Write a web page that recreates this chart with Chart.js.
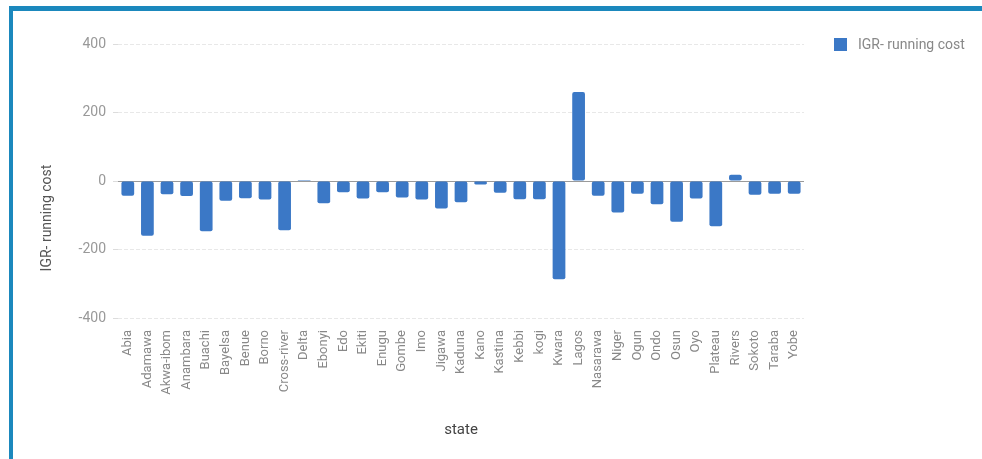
<!DOCTYPE html>
<html lang="en">
<head>
  <meta charset="UTF-8">
  <title>IGR - running cost by state</title>
  <script src="https://cdn.jsdelivr.net/npm/chart.js"></script>
  <style>
    html, body { margin: 0; padding: 0; background: #fff; }
    .frame {
      position: absolute;
      left: 9px;
      top: 6px;
      width: 969px;
      height: 448px;
      border-left: 4px solid #1b88bd;
      border-top: 5px solid #1b88bd;
      background: #fff;
    }
    canvas { display: block; }
  </style>
</head>
<body>
  <div class="frame">
    <canvas id="chart" width="969" height="448"></canvas>
  </div>

  <script>
    const states = ['Abia', 'Adamawa', 'Akwa-ibom', 'Anambara', 'Buachi', 'Bayelsa', 'Benue', 'Borno',
      'Cross-river', 'Delta', 'Ebonyi', 'Edo', 'Ekiti', 'Enugu', 'Gombe', 'Imo', 'Jigawa', 'Kaduna',
      'Kano', 'Kastina', 'Kebbi', 'kogi', 'Kwara', 'Lagos', 'Nasarawa', 'Niger', 'Ogun', 'Ondo',
      'Osun', 'Oyo', 'Plateau', 'Rivers', 'Sokoto', 'Taraba', 'Yobe'];
    const runningCost = [-43, -160, -39, -44, -147, -58, -50, -54, -144, 3, -65, -33, -51, -33, -48, -54,
      -80, -62, -10, -34, -53, -53, -287, 260, -43, -92, -37, -68, -119, -51, -132, 18, -40, -37, -37];
    const yTicks = [-400, -200, 0, 200, 400];

    const seriesName = 'IGR- running cost';
    const barColor = '#3b78c6';
    const font = 'Roboto, "Liberation Sans", Arial, sans-serif';

    // legend and rotated y title, placed next to the plot area
    const sideText = {
      id: 'sideText',
      afterDraw(chart) {
        const { ctx, chartArea } = chart;
        ctx.save();
        const bx = chartArea.right + 30;
        const by = chartArea.top - 6;
        ctx.fillStyle = barColor;
        ctx.fillRect(bx, by, 13, 13);
        ctx.fillStyle = '#888';
        ctx.font = '14px ' + font;
        ctx.textBaseline = 'middle';
        ctx.fillText(seriesName, bx + 24, by + 7);

        ctx.translate(34, (chartArea.top + chartArea.bottom) / 2 + 37);
        ctx.rotate(-Math.PI / 2);
        ctx.textAlign = 'center';
        ctx.fillStyle = '#555';
        ctx.font = '14px ' + font;
        ctx.fillText(seriesName, 0, 0);
        ctx.restore();
      }
    };

    new Chart(document.getElementById('chart'), {
      type: 'bar',
      data: {
        labels: states,
        datasets: [{
          label: seriesName,
          data: runningCost,
          backgroundColor: barColor,
          borderRadius: 2,
          borderSkipped: false,
          barPercentage: 0.65,
          categoryPercentage: 1
        }]
      },
      options: {
        responsive: false,
        animation: false,
        layout: { padding: { left: 65, right: 178, top: 33, bottom: 0 } },
        plugins: {
          legend: { display: false },
          tooltip: { enabled: false }
        },
        scales: {
          x: {
            grid: { display: false },
            border: { display: false },
            ticks: {
              autoSkip: false,
              minRotation: 90,
              maxRotation: 90,
              padding: 4,
              color: '#888',
              font: { family: font, size: 13 }
            },
            title: {
              display: true,
              text: 'state',
              color: '#444',
              font: { family: font, size: 15 },
              padding: { top: 0, bottom: 20 }
            },
            afterFit(scale) { scale.height = 141; }
          },
          y: {
            min: -400,
            max: 400,
            afterBuildTicks(scale) { scale.ticks = yTicks.map(v => ({ value: v })); },
            grid: {
              color: ctx => ctx.tick && ctx.tick.value === 0 ? '#9a9a9a' : '#e8e8e8',
              tickColor: '#dcdcdc',
              tickLength: 5
            },
            border: { display: false, dash: ctx => ctx.tick && ctx.tick.value === 0 ? [] : [4, 2] },
            ticks: {
              padding: 7,
              color: '#999',
              font: { family: font, size: 14 }
            },
            afterFit(scale) { scale.width = 40; }
          }
        }
      },
      plugins: [sideText]
    });
  </script>
</body>
</html>
